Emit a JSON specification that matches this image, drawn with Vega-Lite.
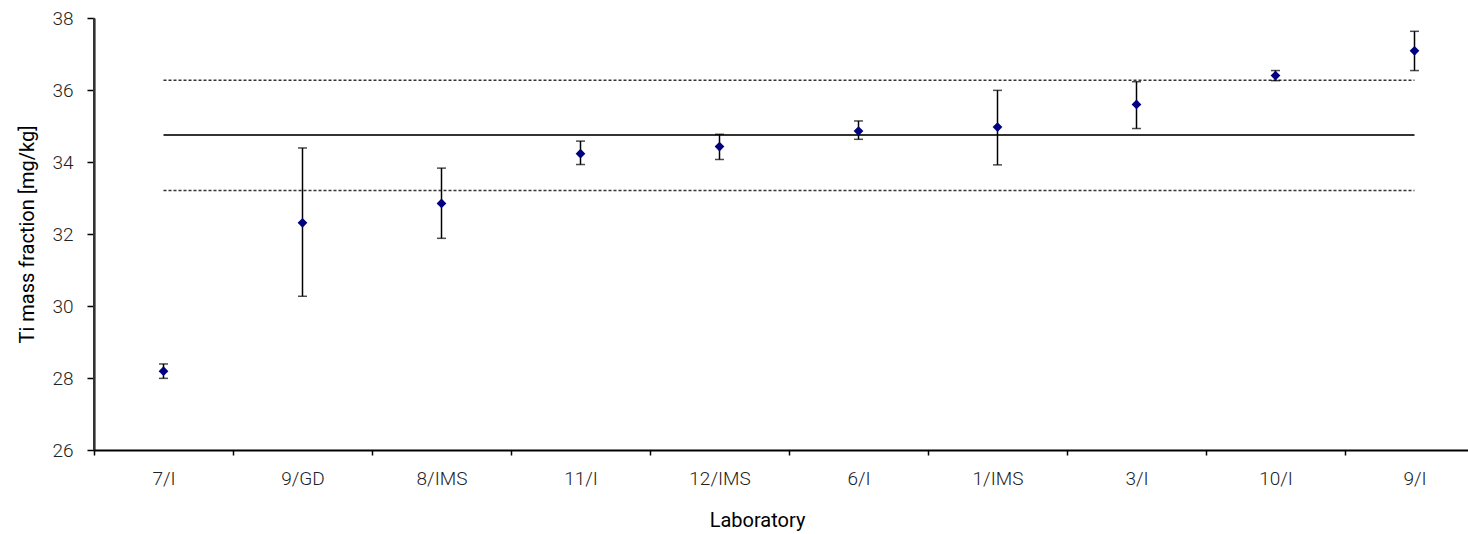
{
  "$schema": "https://vega.github.io/schema/vega-lite/v6.json",
  "width": 1374,
  "height": 432,
  "autosize": {"type": "none"},
  "padding": {"left": 94, "top": 18, "right": 0, "bottom": 84},
  "background": "white",
  "config": {
    "view": {"stroke": null},
    "font": "Roboto",
    "axis": {"grid": false}
  },
  "datasets": {
    "labs": [
      {"lab": "7/I", "value": 28.19, "lo": 27.99, "hi": 28.39},
      {"lab": "9/GD", "value": 32.31, "lo": 30.27, "hi": 34.39},
      {"lab": "8/IMS", "value": 32.85, "lo": 31.88, "hi": 33.83},
      {"lab": "11/I", "value": 34.23, "lo": 33.93, "hi": 34.58},
      {"lab": "12/IMS", "value": 34.43, "lo": 34.07, "hi": 34.77},
      {"lab": "6/I", "value": 34.86, "lo": 34.63, "hi": 35.14},
      {"lab": "1/IMS", "value": 34.97, "lo": 33.92, "hi": 35.99},
      {"lab": "3/I", "value": 35.6, "lo": 34.93, "hi": 36.23},
      {"lab": "10/I", "value": 36.4, "lo": 36.26, "hi": 36.54},
      {"lab": "9/I", "value": 37.09, "lo": 36.54, "hi": 37.63}
    ],
    "refs": [
      {"start": "7/I", "end": "9/I", "value": 34.75, "kind": "mean"},
      {"start": "7/I", "end": "9/I", "value": 36.27, "kind": "limit"},
      {"start": "7/I", "end": "9/I", "value": 33.21, "kind": "limit"}
    ]
  },
  "encoding": {
    "x": {
      "field": "lab",
      "type": "nominal",
      "sort": null,
      "scale": {"domain": ["7/I", "9/GD", "8/IMS", "11/I", "12/IMS", "6/I", "1/IMS", "3/I", "10/I", "9/I"], "range": [0, 1390], "paddingInner": 0, "paddingOuter": 0},
      "axis": {
        "title": "Laboratory",
        "labelAngle": 0,
        "labelFontSize": 19,
        "labelFontWeight": 300,
        "labelColor": "#222222",
        "labelPadding": 14,
        "tickSize": 5,
        "tickColor": "#000000",
        "tickWidth": 1.5,
        "tickBand": "extent",
        "domainColor": "#000000",
        "domainWidth": 2,
        "titleFontSize": 20,
        "titleFontWeight": "normal",
        "titleColor": "#000000",
        "titlePadding": 22,
        "titleX": 663
      }
    }
  },
  "layer": [
    {
      "data": {"name": "refs"},
      "transform": [{"filter": "datum.kind === 'mean'"}],
      "mark": {"type": "rule", "color": "#333333", "strokeWidth": 2},
      "encoding": {
        "x": {"field": "start", "type": "nominal"},
        "x2": {"field": "end"},
        "y": {"field": "value", "type": "quantitative"}
      }
    },
    {
      "data": {"name": "refs"},
      "transform": [{"filter": "datum.kind === 'limit'"}],
      "mark": {"type": "rule", "color": "#333333", "strokeWidth": 1.5, "strokeDash": [3, 2]},
      "encoding": {
        "x": {"field": "start", "type": "nominal"},
        "x2": {"field": "end"},
        "y": {"field": "value", "type": "quantitative"}
      }
    },
    {
      "data": {"name": "labs"},
      "mark": {"type": "rule", "color": "#000000", "strokeWidth": 1.5},
      "encoding": {
        "y": {"field": "lo", "type": "quantitative"},
        "y2": {"field": "hi"}
      }
    },
    {
      "data": {"name": "labs"},
      "mark": {"type": "tick", "color": "#000000", "thickness": 1.5, "size": 9, "orient": "horizontal"},
      "encoding": {
        "y": {"field": "lo", "type": "quantitative"}
      }
    },
    {
      "data": {"name": "labs"},
      "mark": {"type": "tick", "color": "#000000", "thickness": 1.5, "size": 9, "orient": "horizontal"},
      "encoding": {
        "y": {"field": "hi", "type": "quantitative"}
      }
    },
    {
      "data": {"name": "labs"},
      "mark": {"type": "point", "shape": "diamond", "filled": true, "size": 95, "color": "#000080", "opacity": 1},
      "encoding": {
        "y": {
          "field": "value",
          "type": "quantitative",
          "scale": {"domain": [26, 38], "nice": false, "zero": false},
          "axis": {
            "title": "Ti mass fraction  [mg/kg]",
            "values": [26, 28, 30, 32, 34, 36, 38],
            "labelFontSize": 19,
            "labelFontWeight": 300,
            "labelColor": "#222222",
            "labelPadding": 14,
            "tickSize": 7,
            "tickColor": "#000000",
            "tickWidth": 1.5,
            "domainColor": "#000000",
            "domainWidth": 2,
            "titleFontSize": 20,
            "titleFontWeight": "normal",
            "titleColor": "#000000",
            "titlePadding": 14
          }
        }
      }
    },
    {
      "data": {"values": [{}]},
      "mark": {"type": "rule", "color": "#333333", "strokeWidth": 2},
      "encoding": {"y": {"datum": 38}}
    }
  ]
}
